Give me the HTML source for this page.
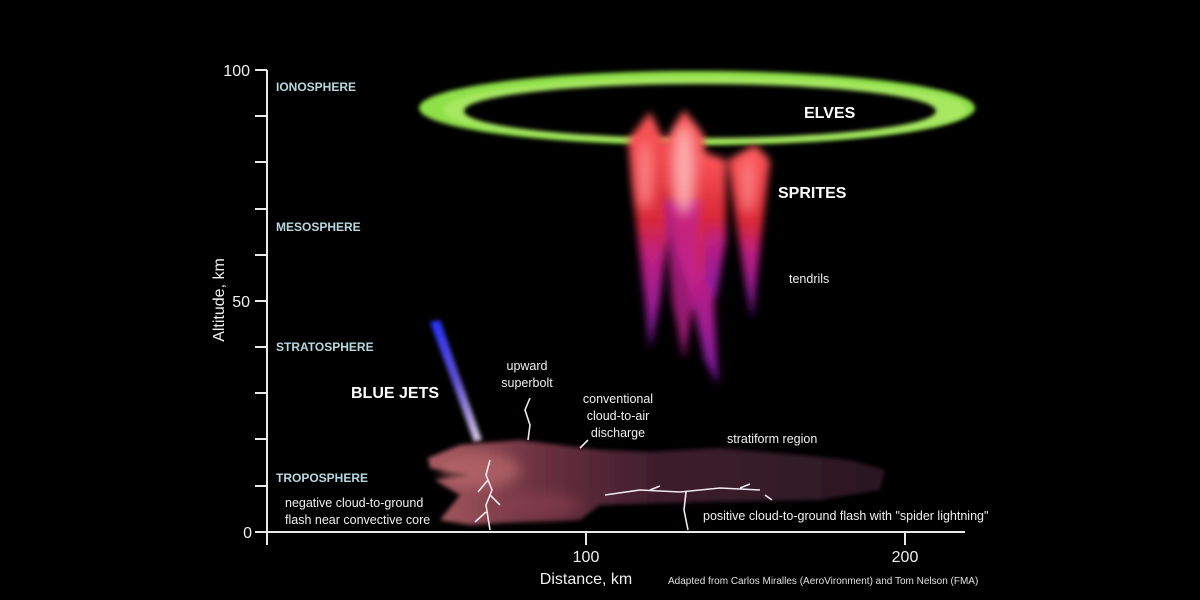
<!DOCTYPE html>
<html><head><meta charset="utf-8"><style>
html,body{margin:0;padding:0;background:#000;width:1200px;height:600px;overflow:hidden}
svg{display:block}
text{font-family:"Liberation Sans",Arial,sans-serif}
</style></head><body>
<svg width="1200" height="600" viewBox="0 0 1200 600" xmlns="http://www.w3.org/2000/svg">
<defs>
<filter id="b2" x="-50%" y="-50%" width="200%" height="200%"><feGaussianBlur stdDeviation="2"/></filter>
<filter id="b4" x="-50%" y="-50%" width="200%" height="200%"><feGaussianBlur stdDeviation="4"/></filter>
<filter id="b6" x="-50%" y="-50%" width="200%" height="200%"><feGaussianBlur stdDeviation="6"/></filter>
<linearGradient id="spr" x1="0" y1="0" x2="0" y2="1">
<stop offset="0" stop-color="#ff5a5a"/><stop offset="0.45" stop-color="#d82838"/><stop offset="0.6" stop-color="#c02080"/><stop offset="1" stop-color="#7a18a8"/></linearGradient>
<linearGradient id="jet" x1="0" y1="0" x2="1" y2="1">
<stop offset="0" stop-color="#2030ff"/><stop offset="0.5" stop-color="#6050d0"/><stop offset="1" stop-color="#e0d0e0"/></linearGradient>
<linearGradient id="cl" x1="0" y1="0" x2="1" y2="0">
<stop offset="0" stop-color="#a85a60"/><stop offset="0.25" stop-color="#6a3040"/><stop offset="0.5" stop-color="#3e1e2c"/><stop offset="1" stop-color="#2a1822"/></linearGradient>
</defs>
<!-- elves -->
<ellipse cx="697" cy="108" rx="278" ry="37" fill="#8ee04a" filter="url(#b2)"/>
<ellipse cx="705" cy="110" rx="262" ry="33" fill="#c0f078" opacity="0.5" filter="url(#b2)"/>
<ellipse cx="700" cy="111" rx="236" ry="27" fill="#000" filter="url(#b2)"/>
<!-- sprites -->
<g filter="url(#b4)">
<path d="M628 140 L650 112 L664 140 L668 230 L660 300 L650 350 L645 300 L636 220Z" fill="url(#spr)"/>
<path d="M660 150 L684 110 L704 135 L708 220 L714 300 L718 385 L705 360 L692 300 L676 250Z" fill="url(#spr)"/>
<path d="M698 150 L726 160 L726 240 L716 300 L706 280Z" fill="url(#spr)"/>
<path d="M728 160 L755 145 L770 160 L762 230 L752 320 L745 280 L736 220Z" fill="url(#spr)"/>
<path d="M664 200 L700 200 L694 300 L684 360 L672 300Z" fill="#c02090" opacity="0.8"/>
</g>
<g filter="url(#b6)" opacity="0.8">
<ellipse cx="684" cy="170" rx="12" ry="45" fill="#ffc0c0"/>
<ellipse cx="645" cy="175" rx="8" ry="35" fill="#ff9090"/>
<ellipse cx="748" cy="185" rx="7" ry="28" fill="#ff9090"/>
</g>
<!-- blue jet -->
<path d="M430 322 L440 320 L482 440 L474 442Z" fill="url(#jet)" filter="url(#b2)"/>
<!-- cloud -->
<g filter="url(#b2)">
<path d="M428 458 L460 445 L520 440 L560 445 L600 450 L650 452 L720 448 L800 455 L850 460 L885 470 L880 490 L820 500 L700 502 L600 505 L580 520 L520 522 L470 525 L440 520 L460 495 L435 480 L470 475 L430 468Z" fill="url(#cl)"/>
</g>
<g filter="url(#b6)" opacity="0.6">
<ellipse cx="480" cy="470" rx="40" ry="18" fill="#c07070"/>
<ellipse cx="540" cy="505" rx="40" ry="12" fill="#8a4050"/>
</g>
<g stroke="#f0e8f0" stroke-width="1.6" fill="none">
<path d="M490 460 L486 475 L492 490 L486 505 L490 530 M488 480 L478 492 M490 495 L500 505 M486 512 L475 522"/>
<path d="M528 440 L530 425 L525 410 L530 398"/>
<path d="M580 448 L588 440"/>
<path d="M605 495 L640 490 L680 492 L720 488 L760 490 M686 492 L684 510 L688 530 M650 490 L660 486 M740 488 L750 484"/>
<path d="M765 495 L772 500"/>
</g>
<!-- axes -->
<g stroke="#e8e8e8" stroke-width="2" fill="none">
<line x1="267" y1="70" x2="267" y2="545"/>
<line x1="255" y1="532" x2="965" y2="532"/>
<line x1="586" y1="532" x2="586" y2="545"/>
<line x1="905" y1="532" x2="905" y2="545"/>
<line x1="255" y1="70" x2="267" y2="70"/><line x1="255" y1="116" x2="267" y2="116"/>
<line x1="255" y1="162" x2="267" y2="162"/><line x1="255" y1="209" x2="267" y2="209"/>
<line x1="255" y1="255" x2="267" y2="255"/><line x1="255" y1="301" x2="267" y2="301"/>
<line x1="255" y1="347" x2="267" y2="347"/><line x1="255" y1="393" x2="267" y2="393"/>
<line x1="255" y1="439" x2="267" y2="439"/><line x1="255" y1="486" x2="267" y2="486"/>
</g>
<g fill="#f0f0f0" font-size="16">
<text x="250" y="76" text-anchor="end">100</text>
<text x="250" y="307" text-anchor="end">50</text>
<text x="252" y="538" text-anchor="end">0</text>
<text x="586" y="562" text-anchor="middle">100</text>
<text x="905" y="562" text-anchor="middle">200</text>
<text x="586" y="584" text-anchor="middle">Distance, km</text>
<text transform="translate(224,300) rotate(-90)" text-anchor="middle">Altitude, km</text>
</g>
<g fill="#b8d8e0" font-size="12" font-weight="bold">
<text x="276" y="91">IONOSPHERE</text>
<text x="276" y="231">MESOSPHERE</text>
<text x="276" y="351">STRATOSPHERE</text>
<text x="276" y="482">TROPOSPHERE</text>
</g>
<g fill="#fff" font-size="16" font-weight="bold">
<text x="804" y="118">ELVES</text>
<text x="778" y="198">SPRITES</text>
<text x="351" y="398">BLUE JETS</text>
</g>
<g fill="#f0f0f0" font-size="12.5">
<text x="789" y="283">tendrils</text>
<text x="527" y="370" text-anchor="middle">upward</text>
<text x="527" y="387" text-anchor="middle">superbolt</text>
<text x="618" y="403" text-anchor="middle">conventional</text>
<text x="618" y="420" text-anchor="middle">cloud-to-air</text>
<text x="618" y="437" text-anchor="middle">discharge</text>
<text x="727" y="443">stratiform region</text>
<text x="285" y="507">negative cloud-to-ground</text>
<text x="285" y="524">flash near convective core</text>
<text x="703" y="520">positive cloud-to-ground flash with "spider lightning"</text>
</g>
<text x="668" y="584" fill="#e0e0e0" font-size="10">Adapted from Carlos Miralles (AeroVironment) and Tom Nelson (FMA)</text>
</svg>
</body></html>
